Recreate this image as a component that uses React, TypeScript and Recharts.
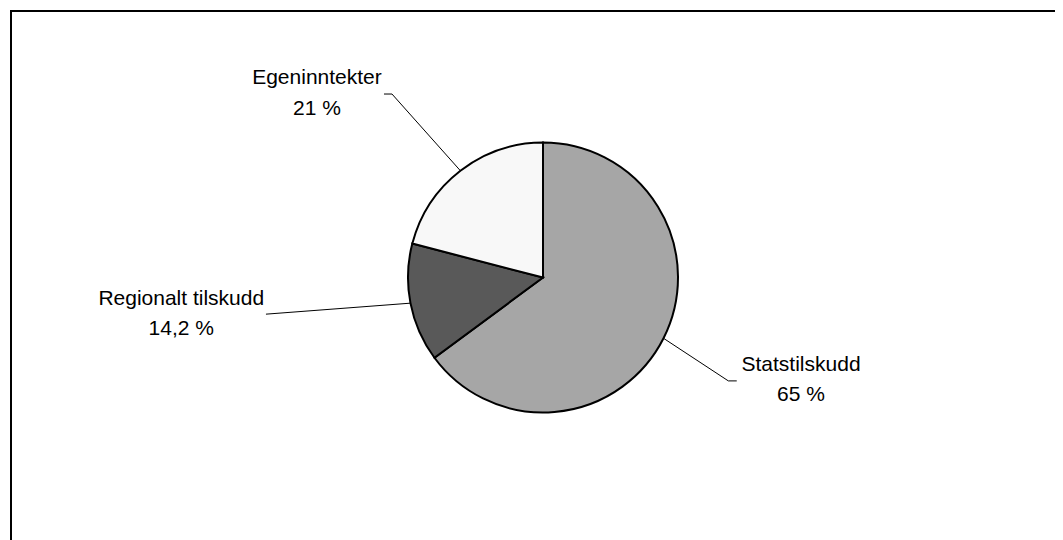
import { PieChart, Pie, Cell } from 'recharts';

const categories = ['Statstilskudd', 'Regionalt tilskudd', 'Egeninntekter'];
const shares = [65, 14.2, 21];
const sliceColors = ['#A6A6A6', '#595959', '#F8F8F8'];

// label placement relative to the slice edge midpoint (Excel-style manual labels)
const labelPlacement = [
  { elbow: [64.8, 42.6], end: [73.2, 42.6], text: [137.5, 32.6] },
  { elbow: null, end: [-144.5, 11], text: [-229.2, 1.7] },
  { elbow: [-68.4, -76.7], end: [-76.4, -76.7], text: [-143.4, -86.4] },
];

const data = categories.map((name, i) => ({ name, value: shares[i] }));

const RAD = Math.PI / 180;
const FONT = '"Liberation Sans", Arial, sans-serif';

function renderLabel(props: any) {
  const { cx, cy, midAngle, outerRadius, index, value, name } = props;
  const ex = cx + outerRadius * Math.cos(-midAngle * RAD);
  const ey = cy + outerRadius * Math.sin(-midAngle * RAD);
  const p = labelPlacement[index];
  const pts = [[ex, ey]];
  if (p.elbow) pts.push([ex + p.elbow[0], ey + p.elbow[1]]);
  pts.push([ex + p.end[0], ey + p.end[1]]);
  const tx = ex + p.text[0];
  const ty = ey + p.text[1];
  return (
    <g key={`lbl-${index}`}>
      <polyline
        points={pts.map(q => q.join(',')).join(' ')}
        fill="none"
        stroke="#000"
        strokeWidth={1}
      />
      <text x={tx} y={ty} textAnchor="middle" fontSize={21} fontFamily={FONT} fill="#000">
        {name}
      </text>
      <text x={tx} y={ty + 30.5} textAnchor="middle" fontSize={21} fontFamily={FONT} fill="#000">
        {String(value).replace('.', ',') + ' %'}
      </text>
    </g>
  );
}

export default function App() {
  return (
    <div style={{ position: 'relative', width: 1055, height: 532, background: '#fff' }}>
      <div
        style={{
          position: 'absolute',
          left: 2,
          top: 2,
          right: 0,
          bottom: 0,
          borderTop: '2px solid #000',
          borderLeft: '2px solid #000',
        }}
      />
      <div style={{ position: 'absolute', left: 0, top: 0 }}>
        <PieChart width={1055} height={532} margin={{ top: 0, right: 0, bottom: 0, left: 0 }}>
          <Pie
            data={data}
            dataKey="value"
            nameKey="name"
            cx={535}
            cy={269.5}
            outerRadius={135}
            startAngle={90}
            endAngle={-270}
            stroke="#000"
            strokeWidth={2}
            label={renderLabel}
            labelLine={false}
            isAnimationActive={false}
          >
            {data.map((d, i) => (
              <Cell key={d.name} fill={sliceColors[i]} />
            ))}
          </Pie>
        </PieChart>
      </div>
    </div>
  );
}
